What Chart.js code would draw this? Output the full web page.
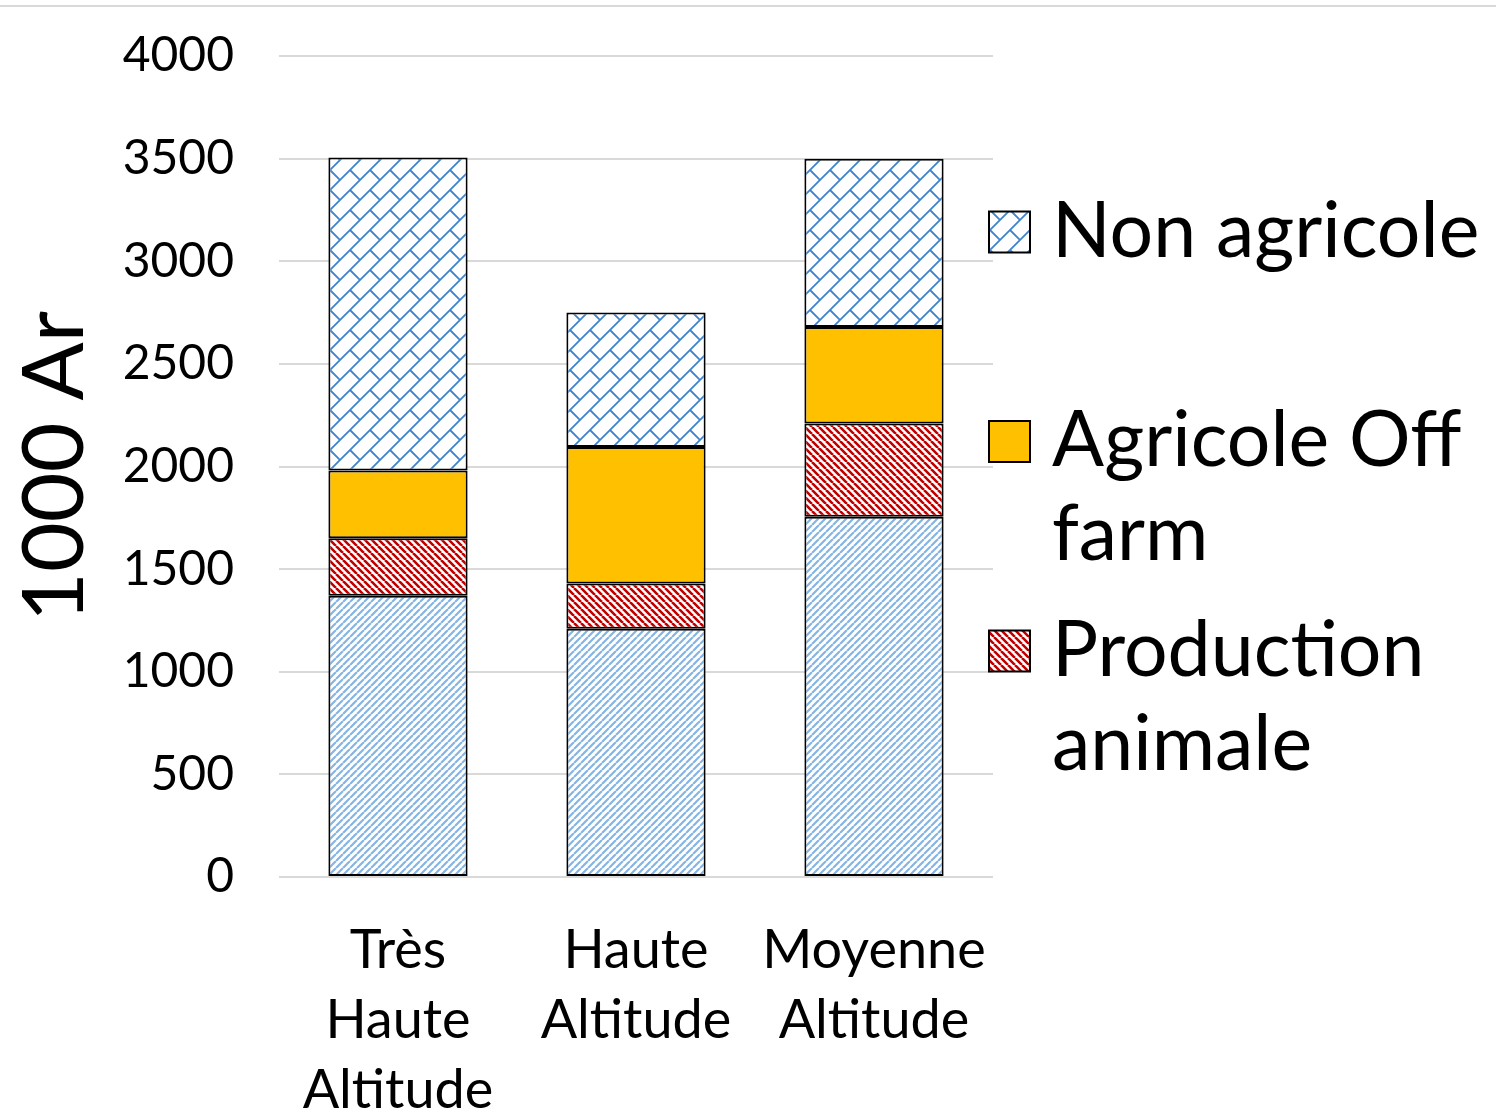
<!DOCTYPE html>
<html>
<head>
<meta charset="utf-8">
<script src="https://cdn.jsdelivr.net/npm/chart.js@4.4.0/dist/chart.umd.min.js"></script>
<style>
  html, body { margin: 0; padding: 0; background: #fff; }
  #wrap { position: relative; width: 1496px; height: 1113px; }
  #topLine { position: absolute; left: 0; top: 5px; width: 1496px; height: 2px; background: #d9d9d9; }
  canvas { display: block; }
</style>
</head>
<body>
<div id="wrap">
  <div id="topLine"></div>
  <canvas id="incomeChart" width="1496" height="1113"></canvas>
</div>
<script>
// categories (multi-line tick labels)
const categories = [["Très", "Haute", "Altitude"], ["Haute", "Altitude"], ["Moyenne", "Altitude"]];

// series values (1000 Ar)
const productionVegetale = [1370, 1210, 1755];
const productionAnimale = [280, 220, 455];
const agricoleOffFarm = [330, 665, 470];
const nonAgricole = [1525, 655, 820];

// y axis ticks
const yTicks = [0, 500, 1000, 1500, 2000, 2500, 3000, 3500, 4000];
const yTitle = "1000 Ar";

// legend text, one entry per line (bottom series is not in the legend)
const legendNon = ["Non agricole"];
const legendOff = ["Agricole Off", "farm"];
const legendAnim = ["Production", "animale"];

const FONT = "Lato, 'Noto Sans', sans-serif";

/* ---------- fill patterns ---------- */
function stripePattern(color, size, width, up) {
  const c = document.createElement("canvas");
  c.width = size; c.height = size;
  const g = c.getContext("2d");
  g.fillStyle = "#fff";
  g.fillRect(0, 0, size, size);
  g.strokeStyle = color;
  g.lineWidth = width;
  g.beginPath();
  for (let k = -1; k <= 1; k++) {
    if (up) { g.moveTo(k * size, size); g.lineTo(k * size + size, 0); }
    else { g.moveTo(k * size, 0); g.lineTo(k * size + size, size); }
  }
  g.stroke();
  return g.createPattern(c, "repeat");
}

function brickPattern(color, s) {
  const c = document.createElement("canvas");
  c.width = s; c.height = s;
  const g = c.getContext("2d");
  g.fillStyle = "#fff";
  g.fillRect(0, 0, s, s);
  g.strokeStyle = color;
  g.lineWidth = 1.8;
  g.beginPath();
  g.moveTo(-2, s + 2); g.lineTo(s + 2, -2);
  g.moveTo(-2, 2); g.lineTo(2, -2);
  g.moveTo(s - 2, s + 2); g.lineTo(s + 2, s - 2);
  g.moveTo(s / 2, s / 2); g.lineTo(s + 1, s + 1);
  g.moveTo(-1, -1); g.lineTo(0, 0);
  g.stroke();
  return g.createPattern(c, "repeat");
}

const vegFill = stripePattern("#86b5e3", 7, 2.2, true);
const animFill = stripePattern("#c00000", 7, 2.6, false);
const offFill = "#ffc000";
const nonFill = brickPattern("#3f83cc", 20);

/* ---------- legend drawn on the canvas (wrapped text) ---------- */
const sideLegend = {
  id: "sideLegend",
  afterDraw(chart, args, opts) {
    const ctx = chart.ctx;
    ctx.save();
    ctx.font = opts.fontSize + "px " + FONT;
    ctx.textBaseline = "middle";
    ctx.textAlign = "left";
    opts.items.forEach((item, i) => {
      const ds = chart.data.datasets[item];
      const cy = opts.top + i * opts.itemGap;
      ctx.fillStyle = ds.backgroundColor;
      ctx.fillRect(opts.boxX, cy - opts.box / 2, opts.box, opts.box);
      ctx.lineWidth = 2;
      ctx.strokeStyle = "#000";
      ctx.strokeRect(opts.boxX, cy - opts.box / 2, opts.box, opts.box);
      ctx.fillStyle = "#000";
      ds.legendLines.forEach((line, j) => {
        ctx.fillText(line, opts.textX, cy + j * opts.lineHeight);
      });
    });
    ctx.restore();
  }
};

const ctx = document.getElementById("incomeChart");

new Chart(ctx, {
  type: "bar",
  data: {
    labels: categories,
    datasets: [
      { label: "Production végétale", data: productionVegetale, backgroundColor: vegFill, legendLines: [] },
      { label: "Production animale", data: productionAnimale, backgroundColor: animFill, legendLines: legendAnim },
      { label: "Agricole Off farm", data: agricoleOffFarm, backgroundColor: offFill, legendLines: legendOff },
      { label: "Non agricole", data: nonAgricole, backgroundColor: nonFill, legendLines: legendNon }
    ].map(d => Object.assign(d, {
      borderColor: "#000",
      borderWidth: 2,
      borderSkipped: false,
      categoryPercentage: 1,
      barPercentage: 0.585
    }))
  },
  options: {
    responsive: false,
    devicePixelRatio: 1,
    animation: false,
    layout: { padding: { top: 56, right: 503, left: 0, bottom: 0 } },
    plugins: {
      legend: { display: false },
      tooltip: { enabled: false },
      sideLegend: {
        items: [3, 2, 1],
        top: 232,
        itemGap: 209.5,
        lineHeight: 94,
        boxX: 989,
        box: 41,
        textX: 1052,
        fontSize: 77
      }
    },
    scales: {
      x: {
        stacked: true,
        grid: { display: false },
        border: { display: false },
        ticks: {
          color: "#000",
          font: { family: FONT, size: 54, lineHeight: 1.3 },
          padding: 30,
          maxRotation: 0,
          autoSkip: false
        },
        afterFit(scale) { scale.height = 236; }
      },
      y: {
        stacked: true,
        min: 0,
        max: 4000,
        afterBuildTicks(scale) { scale.ticks = yTicks.map(v => ({ value: v })); },
        // invisible tick marks give the gap between labels and plot
        grid: { color: "#d9d9d9", lineWidth: 2, drawTicks: true, tickLength: 42, tickColor: "rgba(0,0,0,0)" },
        border: { display: false },
        ticks: {
          color: "#000",
          font: { family: FONT, size: 48 },
          padding: 3,
          callback: v => String(v)
        },
        title: {
          display: true,
          text: yTitle,
          color: "#000",
          font: { family: FONT, size: 86 },
          padding: { top: 4, bottom: 0 }
        },
        afterFit(scale) { scale.width = 279; }
      }
    }
  },
  plugins: [sideLegend]
});
</script>
</body>
</html>
